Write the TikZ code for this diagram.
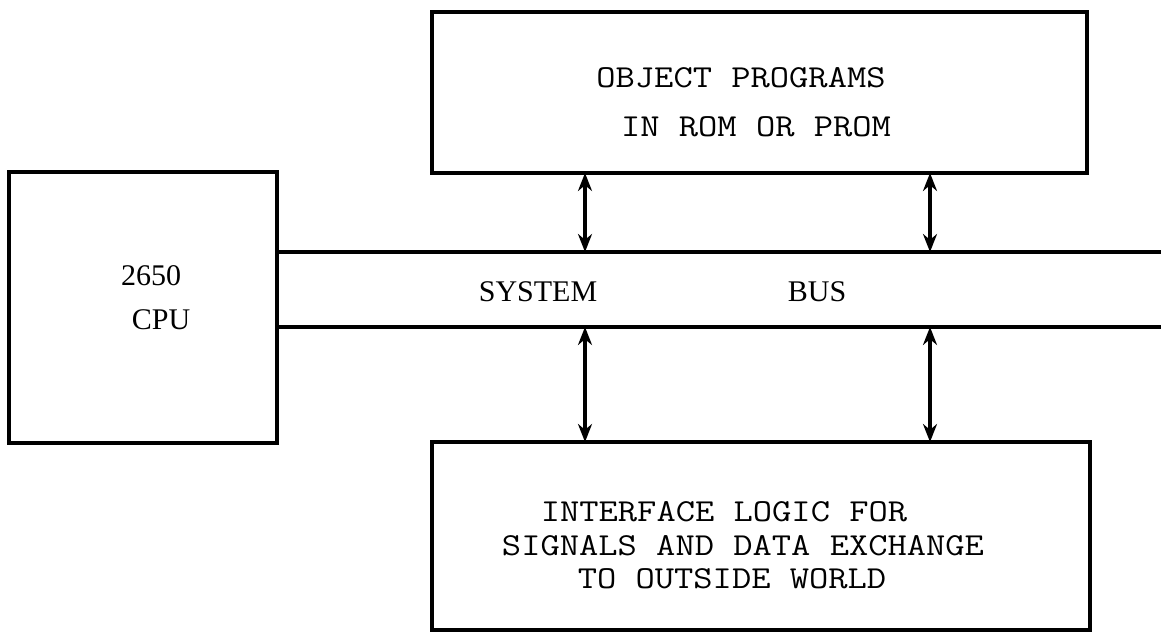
\documentclass[tikz,border=0pt]{standalone}
\usepackage{fontspec}
\usepackage{tikz}
\usetikzlibrary{arrows.meta}
\newfontfamily\lblfont{Liberation Serif}
\newcommand{\tw}[1]{\scalebox{1.17}[1]{#1}}
\tikzset{blk/.style={rectangle,draw,line width=2.3pt,outer sep=0pt,inner sep=0pt},
  tw/.style={font=\ttfamily\fontsize{16}{16}\selectfont,inner sep=0pt},
  lbl/.style={font=\lblfont\fontsize{15}{15}\selectfont,inner sep=0pt}}

\begin{document}
\begin{tikzpicture}[x=0.5pt,y=-0.5pt,>={Stealth[length=9pt,width=7pt]}]
    \useasboundingbox (0,0) rectangle (1161,636);

    \node[blk,minimum width=327.5pt,minimum height=80.5pt] (rom) at (759.5,92.5) {};
    \node[blk,minimum width=134pt,minimum height=135.5pt] (cpu) at (143,307.5) {};
    \node[blk,minimum width=329pt,minimum height=94pt] (io) at (761,536) {};

    \node[tw] (rom1) at (741,78) {\tw{OBJECT PROGRAMS}};
    \node[tw] (rom2) at (756,127) {\tw{IN ROM OR PROM}};
    \node[tw] (io1) at (724,512) {\tw{INTERFACE LOGIC FOR}};
    \node[tw] (io2) at (743,546) {\tw{SIGNALS AND DATA EXCHANGE}};
    \node[tw] (io3) at (732,579) {\tw{TO OUTSIDE WORLD}};
    \node[lbl] (num) at (151,276) {2650};
    \node[lbl] (cpulbl) at (161,320) {CPU};
    \node[lbl] (sys) at (538,292) {SYSTEM};
    \node[lbl] (bus) at (817,292) {BUS};

    % system bus
    \coordinate (bt) at (1161,252);
    \coordinate (bb) at (1161,327);
    \draw [line width=2.3pt] (cpu.east |- bt) -- (bt);
    \draw [line width=2.3pt] (cpu.east |- bb) -- (bb);

    \coordinate (l) at (585,0);
    \coordinate (r) at (930,0);
    \draw [<->,line width=2.2pt] (rom.south -| l) -- (bt -| l);
    \draw [<->,line width=2.2pt] (rom.south -| r) -- (bt -| r);
    \draw [<->,line width=2.2pt] (bb -| l) -- (io.north -| l);
    \draw [<->,line width=2.2pt] (bb -| r) -- (io.north -| r);
\end{tikzpicture}
\end{document}
